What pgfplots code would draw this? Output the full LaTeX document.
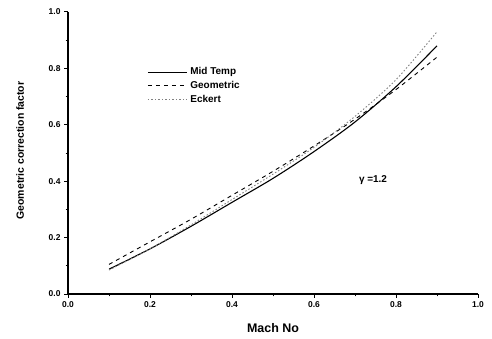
\documentclass[border=0pt]{standalone}
\usepackage{fontspec}
\setmainfont{Liberation Sans}
\usepackage{pgfplots}
\pgfplotsset{compat=1.18}
\begin{document}
\begin{tikzpicture}
\useasboundingbox (0,0) rectangle (492bp,339bp);
\begin{axis}[
  at={(68bp,45bp)}, anchor=south west,
  scale only axis, width=410bp, height=282bp,
  xmin=0, xmax=1, ymin=0, ymax=1,
  axis lines*=left,
  axis line style={line width=1.4pt},
  tick align=outside,
  major tick length=4bp, minor tick length=2.5bp,
  every tick/.style={line width=1pt, black},
  xtick={0,0.2,...,1.0}, ytick={0,0.2,...,1.0},
  minor xtick={0.1,0.3,0.5,0.7,0.9},
  minor ytick={0.1,0.3,0.5,0.7,0.9},
  /pgf/number format/assume math mode=true,
  xticklabel style={/pgf/number format/.cd, fixed, fixed zerofill, precision=1},
  yticklabel style={/pgf/number format/.cd, fixed, fixed zerofill, precision=1},
  ticklabel style={font=\bfseries\fontsize{8.5}{9}\selectfont},
  xlabel={\textbf{Mach No}},
  ylabel={\textbf{Geometric correction factor}},
  xlabel style={at={(axis description cs:0.5,-0.121)}, anchor=center, font=\fontsize{12.5}{14}\selectfont},
  ylabel style={at={(axis description cs:-0.117,0.509)}, anchor=center, font=\fontsize{10.5}{12}\selectfont},
  legend style={at={(axis description cs:0.193,0.81)}, anchor=north west, draw=none, fill=none,
    font=\bfseries\fontsize{10}{11}\selectfont, row sep=1bp, inner sep=0pt,
    /tikz/every odd column/.append style={column sep=1bp}},
  legend cell align=left,
  legend image code/.code={\draw[#1] (0bp,0bp) -- (39bp,0bp);},
]
\addplot[black, line width=1.1pt, smooth] coordinates {
(0.1,0.088) (0.2,0.160) (0.3,0.240) (0.4,0.325) (0.5,0.410) (0.6,0.505) (0.7,0.610) (0.8,0.735) (0.9,0.880)};
\addlegendentry{Mid Temp}
\addplot[black, line width=0.9pt, dash pattern=on 4bp off 4bp, smooth] coordinates {
(0.1,0.105) (0.2,0.185) (0.3,0.265) (0.4,0.350) (0.5,0.435) (0.6,0.525) (0.7,0.620) (0.8,0.725) (0.9,0.840)};
\addlegendentry{Geometric}
\addplot[black!50, line width=0.9pt, dash pattern=on 1.5bp off 2bp, smooth] coordinates {
(0.1,0.085) (0.2,0.160) (0.3,0.245) (0.4,0.335) (0.5,0.425) (0.6,0.520) (0.7,0.630) (0.8,0.760) (0.9,0.930)};
\addlegendentry{Eckert}
\node[font=\bfseries\fontsize{10}{11}\selectfont] at (axis cs:0.744,0.404) {γ =1.2};
\end{axis}
\end{tikzpicture}
\end{document}
